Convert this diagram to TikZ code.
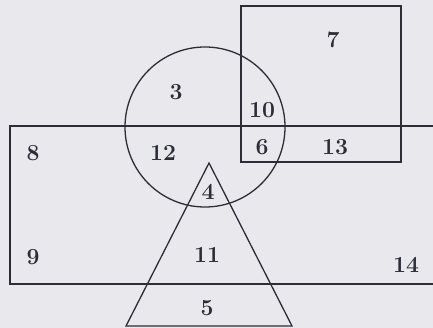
\documentclass[tikz,border=0pt]{standalone}
\definecolor{paper}{RGB}{232,232,237}
\definecolor{ink}{RGB}{45,45,55}
\tikzset{
  shape line/.style={draw=ink, line width=1.3pt},
  lbl/.style={text=ink, inner sep=0pt, font=\fontsize{23}{23}\selectfont\bfseries}
}
\begin{document}
\begin{tikzpicture}[x=1pt,y=-1pt]
\fill[paper] (0,0) rectangle (433,328);
\useasboundingbox (0,0) rectangle (433,328);
% big rectangle (open on the right)
\draw[shape line] (433,126) -- (10,126) -- (10,284) -- (433,284);
% square
\draw[shape line] (241,6) rectangle (401,162);
% circle
\draw[shape line] (205,127) circle[radius=80];
% triangle
\draw[shape line] (209,163) -- (292,326) -- (126,326) -- cycle;
% labels
\node[lbl] (n7)  at (333,40)  {7};
\node[lbl] (n3)  at (176,92)  {3};
\node[lbl] (n10) at (262,110) {10};
\node[lbl] (n8)  at (33,153)  {8};
\node[lbl] (n12) at (163,153) {12};
\node[lbl] (n6)  at (262,147) {6};
\node[lbl] (n13) at (335,147) {13};
\node[lbl] (n4)  at (208,192) {4};
\node[lbl] (n9)  at (33,257)  {9};
\node[lbl] (n11) at (207,255) {11};
\node[lbl] (n14) at (406,265) {14};
\node[lbl] (n5)  at (207,308) {5};
\end{tikzpicture}
\end{document}
